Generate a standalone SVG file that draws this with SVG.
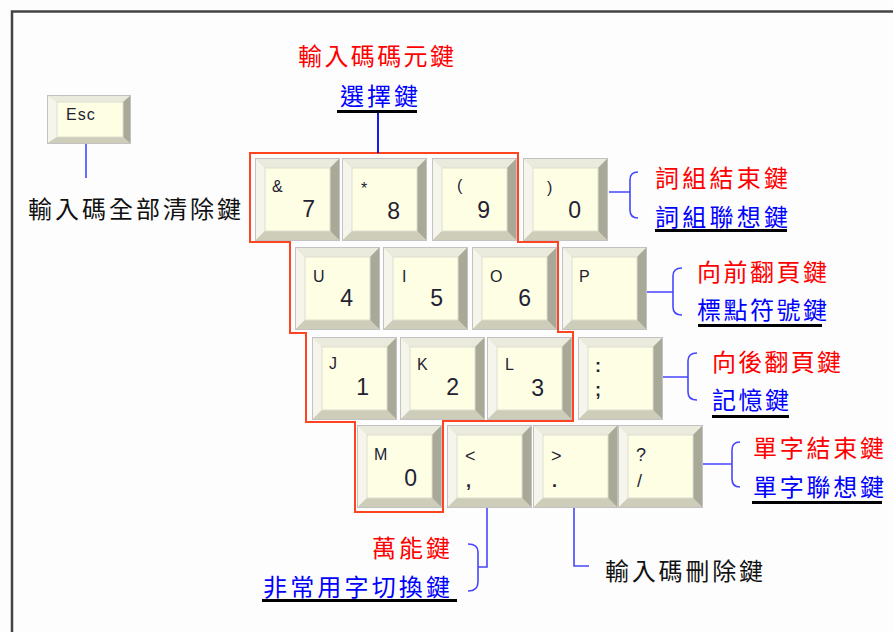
<svg xmlns="http://www.w3.org/2000/svg" xmlns:xlink="http://www.w3.org/1999/xlink" width="893" height="632" viewBox="0 0 893 632">
<style>
.cjk{font-family:"Noto Sans CJK TC","Noto Sans CJK SC",sans-serif;font-size:24px}
.red{fill:#ff0000}
.blue{fill:#0000ff}
.blk{fill:#111111}
.ul{fill:#000000}
.lg{font-family:"Liberation Sans",Arial,sans-serif;font-size:16px;fill:#222233}
.pn{font-family:"Liberation Sans",Arial,sans-serif;font-size:18px;font-weight:bold;fill:#222233}
.sy{font-family:"Liberation Sans",Arial,sans-serif;font-size:18px;fill:#222233}
.dg{font-family:"Liberation Sans",Arial,sans-serif;font-size:23px;fill:#222233;text-anchor:end}
.conn{fill:none;stroke:#4646ff;stroke-width:1.6}
.frame{fill:none;stroke:#444444;stroke-width:2.5}
.group{fill:none;stroke:#ff4422;stroke-width:2}
</style>
<defs>
<symbol id="key" width="85" height="83" viewBox="0 0 85 83">
<rect x="0.5" y="0.5" width="84" height="82" fill="#d0d0c0" stroke="#c2c2c2"/>
<polygon points="1,1 84,1 75,10 10,10" fill="#ebebdd"/>
<polygon points="1,1 10,10 10,73 1,82" fill="#f5f5ec"/>
<polygon points="84,1 84,82 75,73 75,10" fill="#a9a997"/>
<polygon points="1,82 10,73 75,73 84,82" fill="#cdcdba"/>
<rect x="10" y="10" width="65" height="63" fill="#fefee4" stroke="#deded0" stroke-width="1"/>
</symbol>
</defs>
<rect x="0" y="0" width="893" height="632" fill="#fdfdfd"/>
<path class="frame" d="M12,632 L12,11.5 L893,11.5"/>

<polygon class="group" points="250,153 518,153 518,242 558,242 558,332 573,332 573,421 443,421 443,512 355,512 355,422 306,422 306,333 290,333 290,242 250,242"/>

<g id="connectors">
<line x1="378" y1="113" x2="378" y2="153" stroke="#0000ee" stroke-width="1.8"/>
<line class="conn" x1="86" y1="144" x2="86" y2="178"/>
<path class="conn" d="M609,192 L630,192 M638,172 Q630,172 630,180 L630,210 Q630,218 638,218"/>
<path class="conn" d="M647,292 L673,292 M682,268 Q673,268 673,276 L673,307 Q673,315 682,315"/>
<path class="conn" d="M663,377 L688,377 M697,353 Q688,353 688,361 L688,392 Q688,400 697,400"/>
<path class="conn" d="M703,464 L732,464 M740,442 Q732,442 732,450 L732,479 Q732,487 740,487"/>
<path class="conn" d="M487,505 L487,567 L478,567 M468,544 Q478,544 478,552 L478,582 Q478,591 468,591"/>
<path class="conn" d="M574,508 L574,566 L589,566"/>
</g>

<g id="key-esc">
<rect x="47.5" y="95.5" width="83" height="48" fill="#d0d0c0" stroke="#c2c2c2"/>
<polygon points="48,96 130,96 123,102 57,102" fill="#ebebdd"/>
<polygon points="48,96 57,102 57,137 48,143" fill="#f5f5ec"/>
<polygon points="130,96 130,143 123,137 123,102" fill="#a9a997"/>
<polygon points="48,143 57,137 123,137 130,143" fill="#cdcdba"/>
<rect x="57" y="102" width="66" height="35" fill="#fefee4" stroke="#deded0"/>
<text x="66" y="120" font-family="Liberation Sans, Arial, sans-serif" font-size="16" fill="#222233" letter-spacing="1">Esc</text>
</g>

<g id="key-7"><use xlink:href="#key" x="255" y="158"/><text class="lg" x="272" y="192">&amp;</text><text class="dg" x="315" y="217">7</text></g>
<g id="key-8"><use xlink:href="#key" x="342" y="158"/><text class="lg" x="361" y="194">*</text><text class="dg" x="400" y="219">8</text></g>
<g id="key-9"><use xlink:href="#key" x="432" y="158"/><text class="lg" x="457" y="191">(</text><text class="dg" x="490" y="218">9</text></g>
<g id="key-0"><use xlink:href="#key" x="523" y="158"/><text class="lg" x="547" y="193">)</text><text class="dg" x="581" y="218">0</text></g>

<g id="key-4"><use xlink:href="#key" x="295" y="247"/><text class="lg" x="313" y="282">U</text><text class="dg" x="353" y="306">4</text></g>
<g id="key-5"><use xlink:href="#key" x="383" y="247"/><text class="lg" x="402" y="282">I</text><text class="dg" x="443" y="306">5</text></g>
<g id="key-6"><use xlink:href="#key" x="472" y="247"/><text class="lg" x="490" y="282">O</text><text class="dg" x="531" y="306">6</text></g>
<g id="key-p"><use xlink:href="#key" x="562" y="247"/><text class="lg" x="579" y="282">P</text></g>

<g id="key-1"><use xlink:href="#key" x="312" y="337"/><text class="lg" x="329" y="369">J</text><text class="dg" x="369" y="395">1</text></g>
<g id="key-2"><use xlink:href="#key" x="400" y="337"/><text class="lg" x="417" y="370">K</text><text class="dg" x="459" y="395">2</text></g>
<g id="key-3"><use xlink:href="#key" x="487" y="337"/><text class="lg" x="505" y="370">L</text><text class="dg" x="544" y="396">3</text></g>
<g id="key-semi"><use xlink:href="#key" x="578" y="337"/><text class="pn" x="595" y="372">:</text><text class="pn" x="595" y="396">;</text></g>

<g id="key-m0"><use xlink:href="#key" x="357" y="425"/><text class="lg" x="374" y="460">M</text><text class="dg" x="417" y="486">0</text></g>
<g id="key-comma"><use xlink:href="#key" x="447" y="425"/><text class="sy" x="465" y="462">&lt;</text><text class="pn" x="466" y="487">,</text></g>
<g id="key-period"><use xlink:href="#key" x="533" y="425"/><text class="sy" x="551" y="462">&gt;</text><text class="pn" x="552" y="487">.</text></g>
<g id="key-slash"><use xlink:href="#key" x="618" y="425"/><text class="sy" x="636" y="461">?</text><text class="sy" x="637" y="487">/</text></g>

<g id="label-top">
<text class="cjk red" x="298" y="65" textLength="156" lengthAdjust="spacing">輸入碼碼元鍵</text>
<text class="cjk blue" x="340" y="105" textLength="78" lengthAdjust="spacing">選擇鍵</text>
<rect class="ul" x="337" y="110" width="80" height="3"/>
</g>
<g id="label-esc">
<text class="cjk blk" x="28" y="218" textLength="213" lengthAdjust="spacing">輸入碼全部清除鍵</text>
</g>
<g id="label-r1">
<text class="cjk red" x="655" y="187" textLength="133" lengthAdjust="spacing">詞組結束鍵</text>
<text class="cjk blue" x="655" y="226" textLength="133" lengthAdjust="spacing">詞組聯想鍵</text>
<rect class="ul" x="655" y="229" width="132" height="3"/>
</g>
<g id="label-r2">
<text class="cjk red" x="697" y="281" textLength="130" lengthAdjust="spacing">向前翻頁鍵</text>
<text class="cjk blue" x="697" y="319" textLength="130" lengthAdjust="spacing">標點符號鍵</text>
<rect class="ul" x="698" y="324" width="124" height="3"/>
</g>
<g id="label-r3">
<text class="cjk red" x="712" y="371" textLength="129" lengthAdjust="spacing">向後翻頁鍵</text>
<text class="cjk blue" x="712" y="409" textLength="77" lengthAdjust="spacing">記憶鍵</text>
<rect class="ul" x="712" y="415" width="77" height="3"/>
</g>
<g id="label-r4">
<text class="cjk red" x="753" y="457" textLength="131" lengthAdjust="spacing">單字結束鍵</text>
<text class="cjk blue" x="753" y="496" textLength="131" lengthAdjust="spacing">單字聯想鍵</text>
<rect class="ul" x="752" y="501" width="130" height="3"/>
</g>
<g id="label-b1">
<text class="cjk red" x="372" y="557" textLength="78" lengthAdjust="spacing">萬能鍵</text>
<text class="cjk blue" x="263" y="596" textLength="187" lengthAdjust="spacing">非常用字切換鍵</text>
<rect class="ul" x="262" y="599" width="195" height="3"/>
</g>
<g id="label-b2">
<text class="cjk blk" x="605" y="580" textLength="158" lengthAdjust="spacing">輸入碼刪除鍵</text>
</g>
</svg>
